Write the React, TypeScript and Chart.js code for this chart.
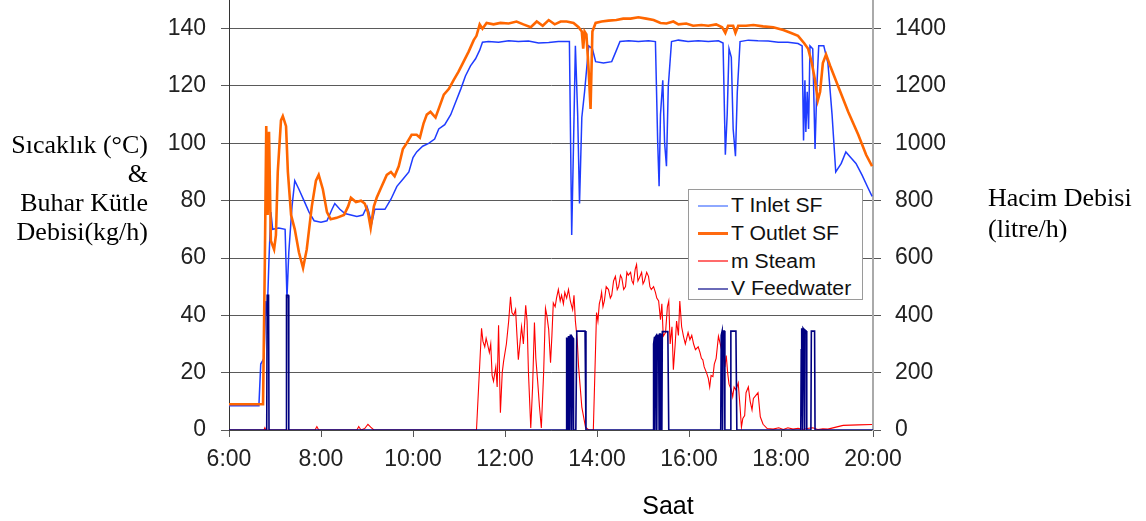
import React, { useEffect, useRef } from "react";
import { Chart, registerables } from "chart.js";

Chart.register(...registerables);

// ---------- data (time in hours of day) ----------
const xTickHours = [6, 8, 10, 12, 14, 16, 18, 20];
const leftTicks = [0, 20, 40, 60, 80, 100, 120, 140];
const rightTicks = [0, 200, 400, 600, 800, 1000, 1200, 1400];

const outletHours = [
  6.0, 6.74, 6.78, 6.81, 6.84, 6.87, 6.91, 6.98, 7.02, 7.06, 7.13, 7.17, 7.24, 7.28, 7.35, 7.43, 7.52, 7.61, 7.69, 7.8,
  7.89, 7.95, 8.04, 8.13, 8.21, 8.34, 8.5, 8.59, 8.65, 8.76, 8.87, 8.95, 9.02, 9.08, 9.15, 9.21, 9.32, 9.43, 9.52, 9.6,
  9.69, 9.78, 9.86, 9.97, 10.08, 10.15, 10.23, 10.3, 10.38, 10.49, 10.58, 10.67, 10.78, 10.88, 10.99, 11.1, 11.21, 11.32,
  11.38, 11.45, 11.51, 11.6, 11.75, 11.9, 12.08, 12.25, 12.4, 12.56, 12.69, 12.82, 12.95, 13.08, 13.21, 13.34, 13.49,
  13.6, 13.67, 13.7, 13.73, 13.77, 13.82, 13.86, 13.9, 13.97, 14.1, 14.25, 14.42, 14.57, 14.73, 14.9, 15.07, 15.23,
  15.38, 15.51, 15.66, 15.77, 15.94, 16.09, 16.27, 16.42, 16.59, 16.72, 16.79, 16.85, 16.96, 17.01, 17.07, 17.24, 17.4,
  17.61, 17.83, 18.05, 18.22, 18.37, 18.5, 18.59, 18.67, 18.74, 18.8, 18.85, 18.91, 18.98, 19.07, 19.24, 19.46, 19.68,
  19.85, 19.98,
];
const tOutlet = [
  9, 9, 60, 106, 75, 104, 66, 63, 68, 90, 108, 109.5, 106, 90, 75, 70, 62, 56.5, 63, 78,
  87, 89, 84, 76, 73.5, 74, 75, 78, 81, 79.5, 80, 79, 76, 70.5, 78, 81, 85, 89, 90, 88.5,
  92, 98, 100, 103, 103, 102, 107, 110, 111, 109, 113, 117, 119, 122, 125, 128.5, 132, 136,
  137.5, 141.5, 140, 142, 141.5, 142, 141.8, 142.5, 141.5, 140.5, 142.5, 141, 143, 141.5, 142.5, 142.5, 142,
  140.5, 139, 133, 139, 138, 125, 112, 139, 142, 142.5, 142.8, 143, 143.5, 143.5, 144, 143.5, 143,
  142, 141.8, 142.5, 141.5, 141.8, 141, 141.3, 141, 141.5, 140.5, 138.5, 141, 141, 138.5, 141, 141, 141.3,
  140.8, 140.5, 139.5, 138.5, 137.5, 135, 133, 128, 122, 115, 118, 128, 131, 127, 120, 111, 103,
  96, 92,
];

const inletHours = [
  6.0, 6.65, 6.69, 6.76, 6.8, 6.83, 6.87, 6.91, 6.95, 7.08, 7.22, 7.26, 7.3, 7.37, 7.43, 7.52, 7.63, 7.74, 7.85, 8.0,
  8.13, 8.24, 8.3, 8.41, 8.52, 8.65, 8.78, 8.91, 9.0, 9.04, 9.1, 9.17, 9.39, 9.52, 9.65, 9.78, 9.91, 10.0, 10.08, 10.21,
  10.34, 10.47, 10.56, 10.69, 10.82, 10.93, 11.04, 11.14, 11.25, 11.36, 11.45, 11.51, 11.64, 11.86, 12.08, 12.29, 12.51,
  12.73, 12.95, 13.16, 13.4, 13.45, 13.49, 13.53, 13.58, 13.62, 13.67, 13.73, 13.82, 13.9, 13.97, 14.14, 14.32, 14.41,
  14.5, 14.69, 14.9, 15.12, 15.27, 15.32, 15.35, 15.38, 15.43, 15.47, 15.51, 15.55, 15.62, 15.77, 15.98, 16.2, 16.42,
  16.64, 16.74, 16.79, 16.83, 16.87, 16.92, 16.96, 17.01, 17.05, 17.11, 17.29, 17.5, 17.72, 17.94, 18.15, 18.37, 18.46,
  18.49, 18.52, 18.54, 18.57, 18.6, 18.63, 18.69, 18.74, 18.78, 18.82, 18.93, 19.02, 19.11, 19.19, 19.31, 19.41, 19.52,
  19.63, 19.76, 19.89, 19.98,
];
const tInlet = [
  8.5, 8.5, 23, 25, 45, 40, 60, 76, 70, 70.5, 70, 46, 62, 78, 87, 84, 80, 76, 73, 72.5,
  73, 77, 79, 77, 75.5, 75, 74.5, 75, 78, 76, 72, 77, 77, 80.5, 85, 87.5, 90, 95, 97, 99,
  100, 101.5, 105, 106.5, 110, 114.5, 119, 123.5, 127, 129.5, 132.5, 135.3, 135.5, 135.3, 135.8, 135.5, 135.7,
  135, 135.2, 135.5, 135.5, 68, 100, 134, 110, 79, 109, 118, 134, 133, 128.5, 128, 128.5, 132,
  135.5, 135.8, 135.5, 135.8, 135.5, 100, 85, 110, 122, 100, 92, 120, 135.5, 136, 135.5, 135.8, 135.5,
  135.8, 135, 96, 110, 133, 130, 105, 95.5, 118, 135.5, 136, 135.8, 135.7, 135.3, 135.3, 134.8, 134,
  101, 122, 104, 118, 105, 134, 133, 98, 120, 134, 134, 128, 110, 90, 93, 97, 95,
  93, 89, 84.5, 81.5,
];

const steamHours = [
  6.0, 6.76, 6.78, 6.8, 7.87, 7.91, 7.95, 8.78, 8.82, 8.87, 8.95, 9.02, 9.08, 9.15, 11.38, 11.49, 11.52, 11.56, 11.59,
  11.62, 11.66, 11.69, 11.72, 11.75, 11.8, 11.83, 11.86, 11.9, 11.94, 11.97, 12.03, 12.08, 12.12, 12.15, 12.19, 12.23,
  12.26, 12.29, 12.33, 12.36, 12.4, 12.45, 12.48, 12.51, 12.56, 12.6, 12.64, 12.67, 12.71, 12.75, 12.79, 12.84, 12.88,
  12.91, 12.95, 12.99, 13.02, 13.05, 13.09, 13.12, 13.16, 13.2, 13.23, 13.27, 13.3, 13.34, 13.38, 13.42, 13.47, 13.5,
  13.53, 13.57, 13.6, 13.67, 13.75, 13.82, 13.92, 13.99, 14.02, 14.05, 14.08, 14.1, 14.13, 14.16, 14.2, 14.25, 14.29,
  14.32, 14.36, 14.4, 14.44, 14.47, 14.51, 14.54, 14.58, 14.62, 14.65, 14.68, 14.73, 14.76, 14.79, 14.83, 14.86, 14.89,
  14.92, 14.97, 15.0, 15.03, 15.08, 15.12, 15.15, 15.18, 15.23, 15.27, 15.3, 15.34, 15.38, 15.41, 15.44, 15.49, 15.53,
  15.56, 15.59, 15.63, 15.66, 15.7, 15.73, 15.77, 15.8, 15.84, 15.88, 15.92, 15.98, 16.02, 16.06, 16.1, 16.14, 16.2,
  16.24, 16.27, 16.3, 16.33, 16.38, 16.42, 16.45, 16.48, 16.52, 16.55, 16.59, 16.64, 16.68, 16.71, 16.74, 16.78, 16.81,
  16.84, 16.87, 16.92, 16.95, 16.98, 17.02, 17.07, 17.11, 17.14, 17.17, 17.21, 17.24, 17.29, 17.33, 17.37, 17.4, 17.45,
  17.5, 17.55, 17.61, 17.7, 17.83, 17.95, 18.05, 18.15, 18.26, 18.37, 18.48, 18.6, 18.69, 18.8, 18.91, 19.02, 19.35,
  19.68, 19.98,
];
const mSteam = [
  0, 0, 0.8, 0, 0, 1.2, 0, 0, 1.2, 0, 0.5, 2, 1, 0, 0, 35.5, 31, 29, 32,
  30, 27, 30, 19, 17, 22, 15, 36.5, 6, 20, 24, 30, 38, 46.5, 41, 40, 42,
  33, 24.5, 31, 36, 30, 43.5, 38, 20, 0.7, 15, 37.5, 25, 17, 8, 0.7, 20, 42.5,
  40, 35, 23.5, 33, 44.3, 43, 46, 49, 45, 47, 44, 48, 46, 49, 45, 42, 47,
  38, 31.5, 22, 8, 1, 0, 0, 41, 38, 44, 46, 48, 43, 45, 50, 49, 46,
  47, 52, 53.6, 49, 50, 54, 53, 49, 50, 55, 54, 55, 52, 51, 56, 57.7, 52,
  53, 55, 51, 52, 55, 53.6, 50, 49, 50, 48, 46, 45, 38.5, 44, 32.7, 34, 43,
  45, 30, 36, 21, 30, 38, 33, 45, 36, 32.7, 30, 34, 31.5, 33, 30, 28, 29, 27,
  25, 24.5, 22, 20, 18, 15, 19, 18.6, 23, 25, 32.7, 30, 28, 31, 22, 26, 20,
  16, 14, 11.6, 15, 14, 16.4, 8, 1, 4, 5, 13, 15, 10, 7, 11, 12, 13,
  4.6, 2, 0.5, 0.3, 0.8, 0.2, 0.8, 0.3, 0.6, 0.2, 0.6, 0.8, 0.2, 0.4, 0.3, 1.6, 1.8,
  1.9, 2,
];

const feedHours = [
  6.0, 6.82, 6.83, 6.86, 6.87, 7.24, 7.25, 7.29, 7.3,
  13.33, 13.34, 13.36, 13.37, 13.38, 13.4, 13.41, 13.42, 13.44, 13.45, 13.46, 13.48, 13.49,
  13.54, 13.56, 13.74, 13.76,
  15.22, 15.23, 15.25, 15.26, 15.27, 15.29, 15.3, 15.31, 15.34, 15.35, 15.36, 15.38, 15.39,
  15.41, 15.42, 15.54, 15.56,
  16.69, 16.7, 16.72, 16.73, 16.74, 16.77, 16.78,
  16.9, 16.91, 17.02, 17.04,
  18.43, 18.44, 18.45, 18.47, 18.48, 18.5, 18.51, 18.52, 18.55, 18.56,
  18.65, 18.66, 18.73, 18.74, 20.0,
];
const vFeed = [
  0, 0, 470, 470, 0, 0, 470, 470, 0,
  0, 320, 320, 0, 325, 325, 0, 330, 330, 0, 325, 320, 0,
  0, 345, 345, 0,
  0, 300, 325, 0, 325, 330, 0, 330, 330, 0, 335, 335, 0,
  0, 343, 343, 0,
  0, 330, 345, 0, 345, 345, 0,
  0, 345, 345, 0,
  0, 280, 355, 0, 355, 350, 0, 350, 345, 0,
  0, 345, 345, 0, 0,
];

const legendItems = [
  { label: "T Inlet SF", color: "#8ea8ff", width: 2 },
  { label: "T Outlet SF", color: "#ff6a10", width: 3 },
  { label: "m Steam", color: "#ff6b6b", width: 2 },
  { label: "V Feedwater", color: "#6a6ab8", width: 2 },
];

const W = 1146;
const H = 521;
const AREA_LEFT = 229;
const AREA_RIGHT = 873;
const AREA_BOTTOM = 430;

const sans = '"Liberation Sans", Arial, sans-serif';
const serif = '"Liberation Serif", "Times New Roman", serif';

const noPad = (s: any) => {
  s.paddingTop = 0;
  s.paddingBottom = 0;
  s.paddingLeft = 0;
  s.paddingRight = 0;
};

export default function App() {
  const ref = useRef<HTMLCanvasElement>(null);

  useEffect(() => {
    const toXY = (xs: number[], ys: number[]) => xs.map((x, i) => ({ x, y: ys[i] }));
    const tickFont = { family: sans, size: 23 };
    const chart = new Chart(ref.current as HTMLCanvasElement, {
      type: "line",
      data: {
        datasets: [
          {
            label: "V Feedwater",
            data: toXY(feedHours, vFeed),
            yAxisID: "y1",
            borderColor: "#000080",
            borderWidth: 1.6,
            order: 0,
          },
          {
            label: "T Outlet SF",
            data: toXY(outletHours, tOutlet),
            yAxisID: "y",
            borderColor: "#ff6600",
            borderWidth: 2.6,
            order: 1,
          },
          {
            label: "T Inlet SF",
            data: toXY(inletHours, tInlet),
            yAxisID: "y",
            borderColor: "#1f3cff",
            borderWidth: 1.5,
            order: 2,
          },
          {
            label: "m Steam",
            data: toXY(steamHours, mSteam),
            yAxisID: "y",
            borderColor: "#ff0000",
            borderWidth: 1.1,
            order: 3,
          },
        ],
      },
      options: {
        animation: false,
        responsive: false,
        maintainAspectRatio: false,
        layout: { padding: 0 },
        elements: { point: { radius: 0 }, line: { tension: 0 } },
        plugins: { legend: { display: false }, tooltip: { enabled: false } },
        scales: {
          x: {
            type: "linear",
            min: 6,
            max: 20,
            afterBuildTicks: (axis: any) => {
              axis.ticks = xTickHours.map((v) => ({ value: v }));
            },
            afterFit: (s: any) => {
              s.height = H - AREA_BOTTOM;
              noPad(s);
            },
            grid: { drawOnChartArea: false, drawTicks: true, tickLength: 7, color: "#555", lineWidth: 1 },
            border: { display: true, color: "#444", width: 1 },
            ticks: {
              font: tickFont,
              color: "#222",
              padding: 9,
              maxRotation: 0,
              autoSkip: false,
              callback: (v: any) => `${v}:00`,
            },
          },
          y: {
            position: "left",
            min: 0,
            max: 150,
            afterBuildTicks: (axis: any) => {
              axis.ticks = leftTicks.map((v) => ({ value: v }));
            },
            afterFit: (s: any) => {
              s.width = AREA_LEFT;
              noPad(s);
            },
            grid: { color: "#5a5a5a", lineWidth: 1, tickLength: 8 },
            border: { display: true, color: "#333", width: 1 },
            ticks: { font: tickFont, color: "#222", padding: 15, autoSkip: false, callback: (v: any) => String(v) },
          },
          y1: {
            position: "right",
            min: 0,
            max: 1500,
            afterBuildTicks: (axis: any) => {
              axis.ticks = rightTicks.map((v) => ({ value: v }));
            },
            afterFit: (s: any) => {
              s.width = W - AREA_RIGHT;
              noPad(s);
            },
            grid: { drawOnChartArea: false, color: "#555", lineWidth: 1, tickLength: 8 },
            border: { display: true, color: "#aaaaaa", width: 2 },
            ticks: { font: tickFont, color: "#222", padding: 14, autoSkip: false, callback: (v: any) => String(v) },
          },
        },
      },
    });
    return () => chart.destroy();
  }, []);

  return (
    <div style={{ position: "fixed", left: 0, top: 0, width: W, height: H, background: "#fff", overflow: "hidden" }}>
      <canvas ref={ref} width={W} height={H} style={{ position: "absolute", left: 0, top: 0, width: W, height: H }} />
      <div
        style={{
          position: "absolute",
          left: 0,
          width: 148,
          top: 130,
          textAlign: "right",
          fontFamily: serif,
          fontSize: 26,
          lineHeight: "29px",
          color: "#000",
          whiteSpace: "nowrap",
        }}
      >
        <div>Sıcaklık (°C)</div>
        <div>&amp;</div>
        <div>Buhar Kütle</div>
        <div>Debisi(kg/h)</div>
      </div>
      <div
        style={{
          position: "absolute",
          left: 988,
          top: 182,
          fontFamily: serif,
          fontSize: 26,
          lineHeight: "31px",
          color: "#000",
          whiteSpace: "nowrap",
        }}
      >
        <div>Hacim Debisi</div>
        <div>(litre/h)</div>
      </div>
      <div
        style={{
          position: "absolute",
          left: 600,
          width: 136,
          top: 490,
          textAlign: "center",
          fontFamily: sans,
          fontSize: 25,
          lineHeight: "30px",
          color: "#000",
        }}
      >
        Saat
      </div>
      <div
        style={{
          position: "absolute",
          left: 688,
          top: 189,
          width: 175,
          height: 111,
          boxSizing: "border-box",
          border: "1px solid #9a9a9a",
          background: "#fff",
          paddingTop: 2,
        }}
      >
        {legendItems.map((it) => (
          <div key={it.label} style={{ display: "flex", alignItems: "center", height: 27.7 }}>
            <div style={{ marginLeft: 9, width: 30, height: it.width, background: it.color }} />
            <div
              style={{
                marginLeft: 3,
                fontFamily: sans,
                fontSize: 20,
                color: "#111",
                whiteSpace: "nowrap",
                transform: "scaleX(1.06)",
                transformOrigin: "left center",
              }}
            >
              {it.label}
            </div>
          </div>
        ))}
      </div>
    </div>
  );
}
